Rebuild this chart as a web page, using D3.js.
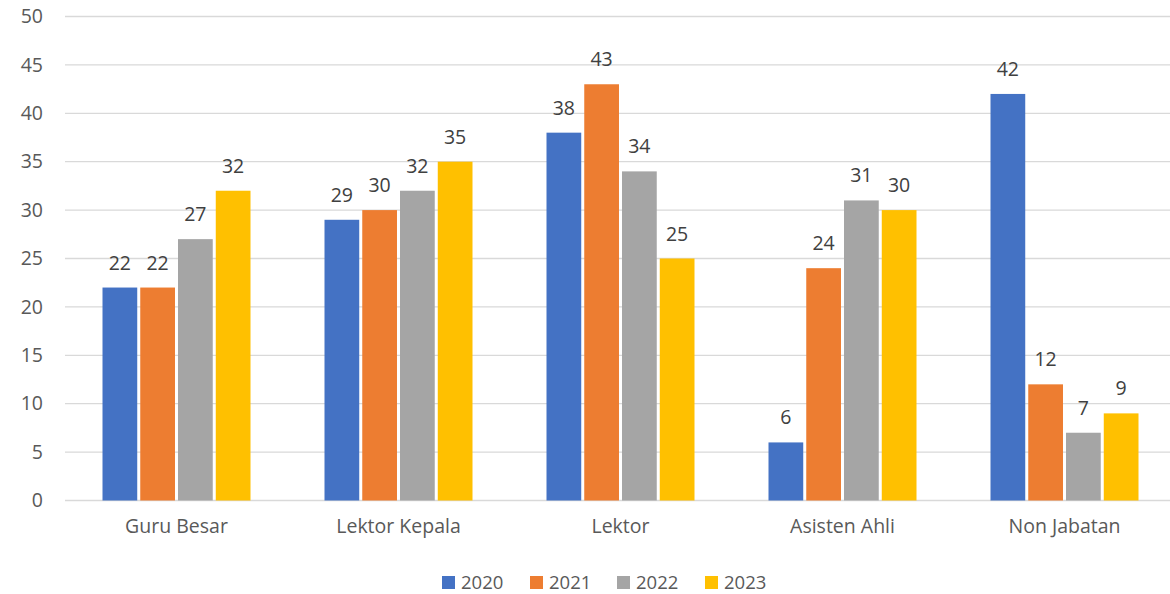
<!DOCTYPE html>
<html><head><meta charset="utf-8">
<script src="https://cdn.jsdelivr.net/npm/d3@7"></script>
<style>body{margin:0;background:#fff}svg{display:block;font-family:"Open Sans","Liberation Sans",sans-serif}</style>
</head><body>
<svg id="c" width="1170" height="594"></svg>
<script>
const categories = ["Guru Besar","Lektor Kepala","Lektor","Asisten Ahli","Non Jabatan"];
const seriesNames = ["2020","2021","2022","2023"];
const v2020 = [22,29,38,6,42];
const v2021 = [22,30,43,24,12];
const v2022 = [27,32,34,31,7];
const v2023 = [32,35,25,30,9];
const yTicks = [0,5,10,15,20,25,30,35,40,45,50];
const colors = ["#4472C4","#ED7D31","#A5A5A5","#FFC000"];
const seriesValues = [v2020,v2021,v2022,v2023];
const FS = 19.5;

const svg = d3.select("#c");
const x0 = d3.scaleBand().domain(categories).range([65.5,1175.5]).padding(0);
const x1 = d3.scaleBand().domain(seriesNames).range([37, x0.bandwidth()-37]).paddingInner(0.08).paddingOuter(0);
const y = d3.scaleLinear().domain([0,50]).range([500.5,16.5]);

svg.append("g").selectAll("line").data(yTicks).join("line")
  .attr("x1",65).attr("x2",1170).attr("y1",d=>y(d)).attr("y2",d=>y(d))
  .attr("stroke","#D9D9D9").attr("stroke-width",1.3);

const yAxis = d3.axisLeft(y).tickValues(yTicks).tickSize(0).tickPadding(0);
const ga = svg.append("g").attr("transform","translate(43,0)").call(yAxis);
ga.select(".domain").remove();
ga.selectAll("text").attr("font-size",FS).attr("fill","#595959").attr("font-family","Open Sans, Liberation Sans, sans-serif");

const xAxis = d3.axisBottom(x0).tickSize(0).tickPadding(0);
const gx = svg.append("g").attr("transform","translate(0,519)").call(xAxis);
gx.select(".domain").remove();
gx.selectAll("text").attr("font-size",FS).attr("fill","#595959").attr("font-family","Open Sans, Liberation Sans, sans-serif");

const groups = svg.append("g").selectAll("g").data(categories).join("g")
  .attr("transform",c=>`translate(${x0(c)},0)`);
seriesNames.forEach((s,si)=>{
  groups.append("rect")
    .attr("x",x1(s)).attr("width",x1.bandwidth())
    .attr("y",(c,i)=>y(seriesValues[si][i]))
    .attr("height",(c,i)=>y(0)-y(seriesValues[si][i]))
    .attr("fill",colors[si]);
  groups.append("text")
    .attr("x",x1(s)+x1.bandwidth()/2)
    .attr("y",(c,i)=>y(seriesValues[si][i])-18)
    .attr("text-anchor","middle").attr("font-size",FS).attr("fill","#404040")
    .text((c,i)=>seriesValues[si][i]);
});

const legendX = [442,530,617,705];
const lg = svg.append("g");
seriesNames.forEach((s,i)=>{
  lg.append("rect").attr("x",legendX[i]).attr("y",576).attr("width",13).attr("height",13).attr("fill",colors[i]);
  lg.append("text").attr("x",legendX[i]+19).attr("y",588.5).attr("font-size",18.5).attr("fill","#595959").text(s);
});
</script>
</body></html>
